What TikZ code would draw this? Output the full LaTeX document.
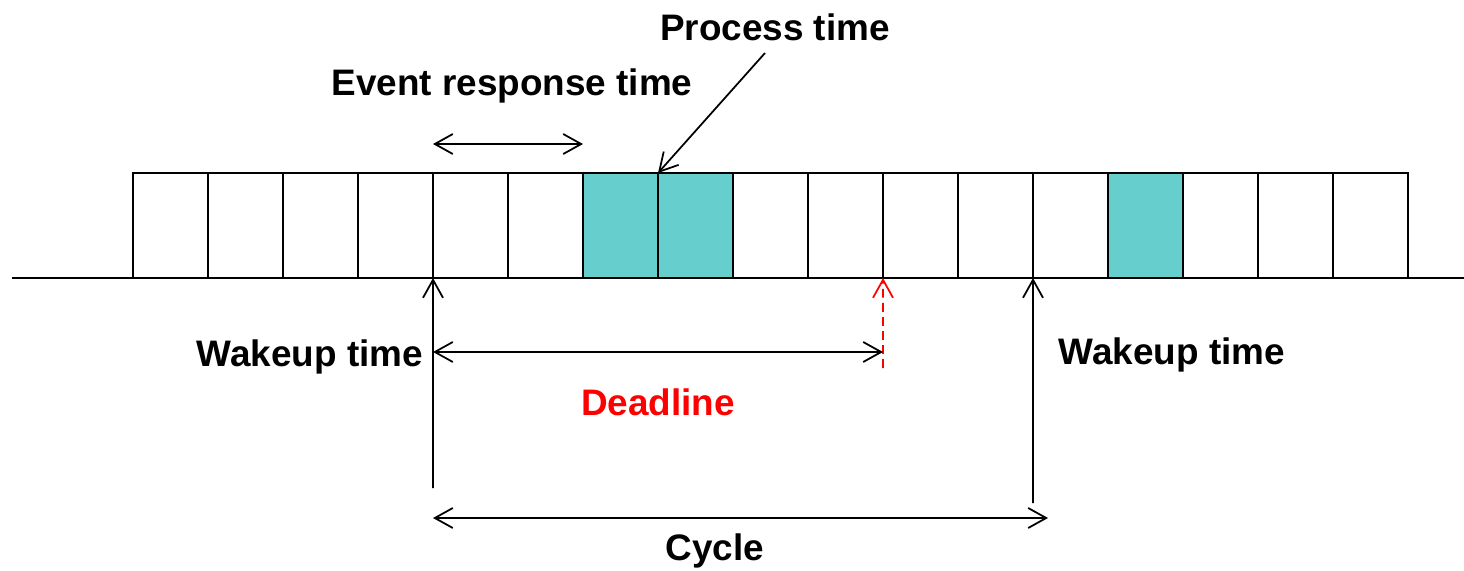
\documentclass[tikz,border=0pt]{standalone}
\usepackage{fontspec}
\setmainfont{Liberation Sans}
\usetikzlibrary{arrows.meta,positioning}
\definecolor{busy}{RGB}{102,206,204}
\newcommand{\slotw}{1.5cm}
\newcommand{\sloth}{2.1cm}

\tikzset{
	slot/.style = {draw, line width=1.1pt, minimum width=\slotw, minimum height=\sloth, inner sep=0pt, outer sep=0pt},
	busyslot/.style = {slot, fill=busy},
	lbl/.style = {font=\fontsize{21}{25}\bfseries\selectfont, inner sep=0pt},
	tip/.style = {line width=1pt, -{Straight Barb[length=3.6mm,width=4mm]}},
	both/.style = {line width=1pt, {Straight Barb[length=3.6mm,width=4mm]}-{Straight Barb[length=3.6mm,width=4mm]}}
}

\begin{document}
\begin{tikzpicture}[x=0.02cm,y=-0.02cm]
	\useasboundingbox (0,0) rectangle (1464,571);
	%\draw[help lines] (0,0) grid[step=100] (1464,571);
	% time line
	\draw[line width=1.1pt] (12,278) -- (1464,278);
	% slots
	\foreach \i in {0,...,16}{
		\node[slot] (s\i) at ({170.5+75*\i},225.5) {};
	}
	\foreach \i in {6,7,13}{
		\node[busyslot] (s\i) at ({170.5+75*\i},225.5) {};
	}
	% free ends
	\coordinate (w1) at (433,488);
	\coordinate (w2) at (1033,503);
	\coordinate (dl) at (883,368);
	\coordinate (pt) at (765,53);
	\coordinate (cy) at (1048,518);
	% arrows
	\draw[both] ([yshift=0.58cm]s4.north west) -- ([yshift=0.58cm]s5.north east);
	\draw[tip] (pt) -- (s7.north west);
	\draw[tip] (w1) -- (s4.south west);
	\draw[tip] (w2) -- (s12.south west);
	\draw[tip, red, dashed, dash pattern=on 5pt off 3pt] (dl) -- (s10.south west);
	\draw[both] (w1 |- 0,352) -- (dl |- 0,352);
	\draw[both] (w1 |- cy) -- (cy);
	% labels
	\node[lbl] (ptime) at (775,27) {Process time};
	\node[lbl] (ert) at (512,86) {Event response time};
	\node[lbl] (wk1) at (310,357) {Wakeup time};
	\node[lbl] (wk2) at (1172,355) {Wakeup time};
	\node[lbl, red] (dead) at (658,402) {Deadline};
	\node[lbl] (cyc) at (715,551) {Cycle};
\end{tikzpicture}
\end{document}
